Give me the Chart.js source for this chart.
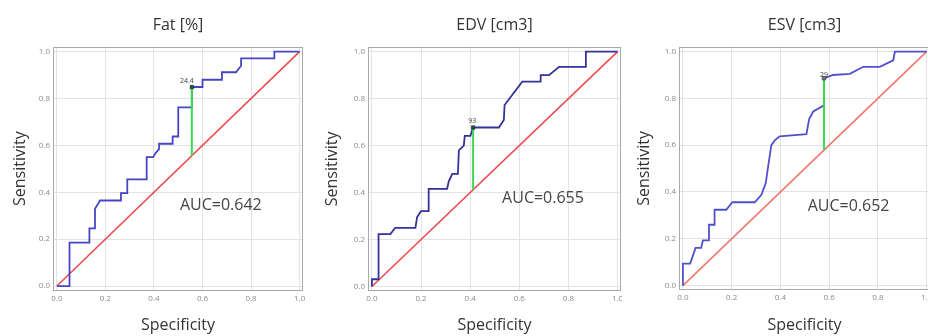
<!DOCTYPE html>
<html>
<head>
<meta charset="utf-8">
<script src="https://cdn.jsdelivr.net/npm/chart.js@4"></script>
<style>
  html, body { margin: 0; padding: 0; background: #fff; overflow: hidden; }
  .panel { position: absolute; top: 0; height: 336px; overflow: hidden; }
  .panel canvas { position: absolute; left: 0; top: 0; }
</style>
</head>
<body>
<div class="panel" style="left:0; width:310px"><canvas id="c0" width="310" height="336"></canvas></div>
<div class="panel" style="left:310px; width:312px"><canvas id="c1" width="330" height="336"></canvas></div>
<div class="panel" style="left:620px; width:308px"><canvas id="c2" width="330" height="336"></canvas></div>
<script>
// chart values
const titles = ['Fat [%]', 'EDV [cm3]', 'ESV [cm3]'];
const aucLabels = ['AUC=0.642', 'AUC=0.655', 'AUC=0.652'];
const cutoffLabels = ['24.4', '93', '29'];
const tickValues = [0, 0.2, 0.4, 0.6, 0.8, 1.0];

const fatX = [0, 0.052, 0.052, 0.134, 0.134, 0.157, 0.157, 0.178, 0.264, 0.264, 0.29, 0.29, 0.37, 0.37, 0.397, 0.405, 0.421, 0.421, 0.477, 0.477, 0.50, 0.50, 0.556, 0.556, 0.60, 0.60, 0.68, 0.68, 0.738, 0.759, 0.759, 0.896, 0.896, 1.0];
const fatY = [0, 0, 0.185, 0.185, 0.246, 0.246, 0.33, 0.365, 0.365, 0.396, 0.396, 0.455, 0.455, 0.55, 0.55, 0.565, 0.584, 0.607, 0.607, 0.638, 0.638, 0.762, 0.762, 0.849, 0.849, 0.88, 0.88, 0.912, 0.912, 0.94, 0.971, 0.971, 1.0, 1.0];

const edvX = [0, 0, 0.027, 0.027, 0.075, 0.095, 0.177, 0.184, 0.2, 0.231, 0.231, 0.306, 0.313, 0.327, 0.35, 0.354, 0.374, 0.378, 0.401, 0.412, 0.517, 0.537, 0.54, 0.612, 0.687, 0.687, 0.721, 0.762, 0.871, 0.871, 1.0];
const edvY = [0, 0.031, 0.031, 0.223, 0.223, 0.25, 0.25, 0.296, 0.321, 0.321, 0.416, 0.416, 0.448, 0.48, 0.48, 0.58, 0.6, 0.641, 0.641, 0.677, 0.677, 0.709, 0.773, 0.872, 0.872, 0.9, 0.9, 0.935, 0.935, 1.0, 1.0];

const esvX = [0, 0, 0.03, 0.052, 0.075, 0.082, 0.107, 0.107, 0.13, 0.13, 0.178, 0.203, 0.295, 0.322, 0.34, 0.35, 0.363, 0.377, 0.397, 0.507, 0.518, 0.535, 0.575, 0.579, 0.579, 0.616, 0.685, 0.74, 0.808, 0.863, 0.87, 1.0];
const esvY = [0, 0.094, 0.094, 0.161, 0.161, 0.193, 0.193, 0.26, 0.26, 0.324, 0.324, 0.356, 0.356, 0.388, 0.438, 0.51, 0.6, 0.621, 0.638, 0.647, 0.712, 0.744, 0.768, 0.768, 0.886, 0.9, 0.905, 0.935, 0.935, 0.963, 1.0, 1.0];

const cutoffX = [0.556, 0.412, 0.579];
const cutoffY = [0.849, 0.677, 0.886];
const aucX = [0.507, 0.53, 0.512];
const aucY = [0.342, 0.377, 0.339];

const curvesX = [fatX, edvX, esvX];
const curvesY = [fatY, edvY, esvY];

// per-panel layout
const panels = [
  { yAxisWidth: 53, padRight: 7, xAxisHeight: 45.5, yTitlePad: 11, cutDx: -5, cutDy: -6, blue: '#4646c2', red: '#ec4c50', marker: '#1f5a2a' },
  { yAxisWidth: 58, padRight: 19, xAxisHeight: 45, yTitlePad: 12.5, cutDx: -1, cutDy: -7, blue: '#33339a', red: '#ec4c50', marker: '#1f5a2a' },
  { yAxisWidth: 59, padRight: 20, xAxisHeight: 46, yTitlePad: 14.5, cutDx: 0, cutDy: -3, blue: '#5050cc', red: '#f0786e', marker: '#6f7f74' }
];

const FONT = '"Open Sans", sans-serif';

const extras = {
  id: 'extras',
  beforeDatasetsDraw(chart) {
    const { ctx, chartArea: a } = chart;
    ctx.save();
    ctx.strokeStyle = '#a9a9a9';
    ctx.lineWidth = 1;
    ctx.strokeRect(Math.round(a.left) + 0.5, Math.round(a.top) + 0.5, Math.round(a.width) - 1, Math.round(a.height) - 1);
    ctx.restore();
  },
  afterDatasetsDraw(chart, args, opts) {
    const { ctx, scales: { x, y } } = chart;
    ctx.save();
    ctx.fillStyle = '#454545';
    ctx.font = '16px ' + FONT;
    ctx.textBaseline = 'middle';
    ctx.textAlign = 'left';
    ctx.fillText(opts.auc, x.getPixelForValue(opts.aucX), y.getPixelForValue(opts.aucY));
    ctx.font = '7px ' + FONT;
    ctx.fillStyle = '#444';
    ctx.textAlign = 'center';
    ctx.fillText(opts.cut, x.getPixelForValue(opts.cx) + opts.dx, y.getPixelForValue(opts.cy) + opts.dy);
    ctx.restore();
  }
};

panels.forEach((p, i) => {
  const xs = curvesX[i], ys = curvesY[i];
  const cx = cutoffX[i], cy = cutoffY[i];
  new Chart(document.getElementById('c' + i), {
    type: 'scatter',
    data: {
      datasets: [
        { data: [{ x: cx, y: cy }], pointStyle: 'rect', pointRadius: 2.5, backgroundColor: p.marker, borderColor: '#123', borderWidth: 0.5, order: 0 },
        { data: [{ x: cx, y: cx }, { x: cx, y: cy }], showLine: true, borderColor: '#3fd650', borderWidth: 2, pointRadius: 0, order: 1 },
        { data: xs.map((v, k) => ({ x: v, y: ys[k] })), showLine: true, borderColor: p.blue, borderWidth: 1.8, pointRadius: 0, order: 2 },
        { data: [{ x: 0, y: 0 }, { x: 1, y: 1 }], showLine: true, borderColor: p.red, borderWidth: 1.6, pointRadius: 0, order: 3 }
      ]
    },
    options: {
      responsive: false,
      animation: false,
      events: [],
      layout: { padding: { left: 0, right: p.padRight, top: 0, bottom: 0 } },
      plugins: {
        legend: { display: false },
        tooltip: { enabled: false },
        title: {
          display: true, text: titles[i], fullSize: false,
          color: '#333', font: { family: FONT, size: 16, weight: 'normal' },
          padding: { top: 15.5, bottom: 12 }
        },
        extras: { auc: aucLabels[i], aucX: aucX[i], aucY: aucY[i], cut: cutoffLabels[i], cx: cx, cy: cy, dx: p.cutDx, dy: p.cutDy }
      },
      scales: {
        x: {
          type: 'linear', min: -0.016, max: 1.014,
          afterBuildTicks: s => { s.ticks = tickValues.map(v => ({ value: v })); },
          afterFit: s => { s.height = p.xAxisHeight; },
          grid: { color: '#e3e3e3', drawTicks: false },
          border: { display: false },
          ticks: { padding: 3, color: '#8a8a8a', font: { family: FONT, size: 8 }, maxRotation: 0, callback: v => v.toFixed(1) },
          title: { display: true, text: 'Specificity', color: '#333', font: { family: FONT, size: 16 }, padding: { top: 0, bottom: 1 } }
        },
        y: {
          type: 'linear', min: -0.019, max: 1.021,
          afterBuildTicks: s => { s.ticks = tickValues.map(v => ({ value: v })); },
          afterFit: s => { s.width = p.yAxisWidth; },
          grid: { color: '#e3e3e3', drawTicks: false },
          border: { display: false },
          ticks: { padding: 3, color: '#8a8a8a', font: { family: FONT, size: 8 }, callback: v => v.toFixed(1) },
          title: { display: true, text: 'Sensitivity', color: '#333', font: { family: FONT, size: 16 }, padding: { top: p.yTitlePad, bottom: 0 } }
        }
      }
    },
    plugins: [extras]
  });
});
</script>
</body>
</html>
